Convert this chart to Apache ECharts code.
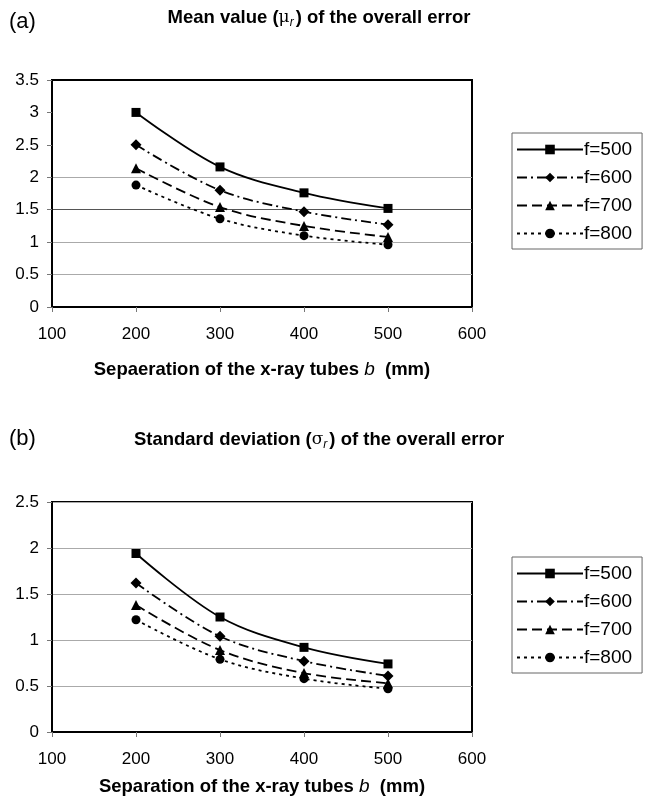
<!DOCTYPE html>
<html>
<head>
<meta charset="utf-8">
<script src="https://cdn.jsdelivr.net/npm/echarts@6/dist/echarts.min.js"></script>
<style>
  html, body { margin: 0; padding: 0; background: #fff; }
  #chart { width: 652px; height: 806px; }
</style>
</head>
<body>
<div id="chart"></div>
<script>
// separation b (mm)
const separation = [200, 300, 400, 500]
const seriesNames = ['f=500', 'f=600', 'f=700', 'f=800']

// (a) mean value of the overall error
const meanF500 = [3.00, 2.16, 1.76, 1.52]
const meanF600 = [2.50, 1.80, 1.47, 1.27]
const meanF700 = [2.14, 1.54, 1.25, 1.08]
const meanF800 = [1.88, 1.36, 1.10, 0.96]

// (b) standard deviation of the overall error
const sdF500 = [1.94, 1.25, 0.92, 0.74]
const sdF600 = [1.62, 1.04, 0.77, 0.61]
const sdF700 = [1.38, 0.89, 0.64, 0.53]
const sdF800 = [1.22, 0.79, 0.58, 0.47]

const FONT = '"Liberation Sans", Arial, sans-serif'

// line look per series: symbol, size, dash
const looks = [
  { symbol: 'rect', size: 9, dash: 'solid' },
  { symbol: 'diamond', size: 11, dash: [10, 4, 2, 4] },
  { symbol: 'triangle', size: 10, dash: [10, 5] },
  { symbol: 'circle', size: 9, dash: [3, 4] }
]

function makeSeries(idx, list) {
  return list.map((vals, i) => ({
    name: seriesNames[i],
    type: 'line',
    xAxisIndex: idx,
    yAxisIndex: idx,
    data: separation.map((x, k) => [x, vals[k]]),
    smooth: 0.35,
    symbol: looks[i].symbol,
    symbolSize: looks[i].size,
    itemStyle: { color: '#000' },
    lineStyle: { color: '#000', width: 1.8, type: looks[i].dash },
    animation: false
  }))
}

function xAxisOf(idx, name, gap) {
  return {
    gridIndex: idx,
    type: 'value',
    min: 100,
    max: 600,
    interval: 100,
    name: name,
    nameLocation: 'middle',
    nameGap: gap,
    nameTextStyle: { fontFamily: FONT, fontSize: 18.5, fontWeight: 'bold', color: '#000', rich: {
      t: { fontFamily: FONT, fontSize: 18.5, fontWeight: 'bold', color: '#000' },
      i: { fontFamily: FONT, fontSize: 19, fontWeight: 'normal', fontStyle: 'italic', color: '#000' }
    } },
    axisLine: { show: true, lineStyle: { color: '#000', width: 2 } },
    axisTick: { show: true, length: 5, lineStyle: { color: '#777' } },
    axisLabel: { fontFamily: FONT, fontSize: 17, color: '#000', margin: 19 },
    splitLine: { show: false }
  }
}

function yAxisOf(idx, max, gridColors) {
  return {
    gridIndex: idx,
    type: 'value',
    min: 0,
    max: max,
    interval: 0.5,
    axisLine: { show: true, lineStyle: { color: '#000', width: 2 } },
    axisTick: { show: true, length: 5, lineStyle: { color: '#777' } },
    axisLabel: { fontFamily: FONT, fontSize: 17, color: '#000', margin: 13 },
    splitLine: { show: true, lineStyle: { color: gridColors, width: 1 } }
  }
}

function legendOf(top) {
  return {
    orient: 'vertical',
    left: 512,
    top: top,
    data: seriesNames,
    itemWidth: 66,
    itemHeight: 12,
    itemGap: 9,
    padding: [7, 10, 6, 4],
    borderColor: '#666',
    borderWidth: 1,
    textStyle: { fontFamily: FONT, fontSize: 19, color: '#000', padding: [0, 0, 0, -4] },
    selectedMode: false
  }
}

function titleText(x, y, text) {
  return {
    type: 'text', x: x, y: y,
    style: {
      text: text,
      align: 'center', verticalAlign: 'middle',
      rich: {
        t: { fontFamily: FONT, fontSize: 18.5, fontWeight: 'bold', fill: '#000', lineHeight: 22 },
        g: { fontFamily: '"DejaVu Serif", serif', fontSize: 17, fontWeight: 'normal', fill: '#000', lineHeight: 22 },
        s: { fontFamily: FONT, fontSize: 12, fontStyle: 'italic', fill: '#000', lineHeight: 22, verticalAlign: 'bottom', padding: [7, 2, 0, 0] }
      }
    }
  }
}

const chart = echarts.init(document.getElementById('chart'))

const T = 'rgba(0,0,0,0)'
chart.setOption({
  backgroundColor: '#fff',
  animation: false,
  grid: [
    { left: 52, top: 80, width: 420, height: 227, show: true, borderColor: '#000', borderWidth: 2 },
    { left: 52, top: 502, width: 420, height: 230, show: true, borderColor: '#000', borderWidth: 2 }
  ],
  xAxis: [
    xAxisOf(0, '{t|Sepaeration of the x-ray tubes }{i|b}{t|  (mm)}', 53),
    xAxisOf(1, '{t|Separation of the x-ray tubes }{i|b}{t|  (mm)}', 45)
  ],
  yAxis: [
    yAxisOf(0, 3.5, ['#aaa', '#aaa', '#aaa', '#555', '#aaa', T, T, T]),
    yAxisOf(1, 2.5, ['#aaa'])
  ],
  legend: [legendOf(133), legendOf(557)],
  graphic: [
    { type: 'text', left: 9, top: 11, style: { text: '(a)', font: '22px ' + FONT, fill: '#000' } },
    { type: 'text', left: 9, top: 428, style: { text: '(b)', font: '22px ' + FONT, fill: '#000' } },
    titleText(319, 18, '{t|Mean value (}{g|\u03bc}{s|r}{t|) of the overall error}'),
    titleText(319, 440, '{t|Standard deviation (}{g|\u03c3}{s|r}{t|) of the overall error}')
  ],
  series: [
    ...makeSeries(0, [meanF500, meanF600, meanF700, meanF800]),
    ...makeSeries(1, [sdF500, sdF600, sdF700, sdF800])
  ]
})
</script>
</body>
</html>
